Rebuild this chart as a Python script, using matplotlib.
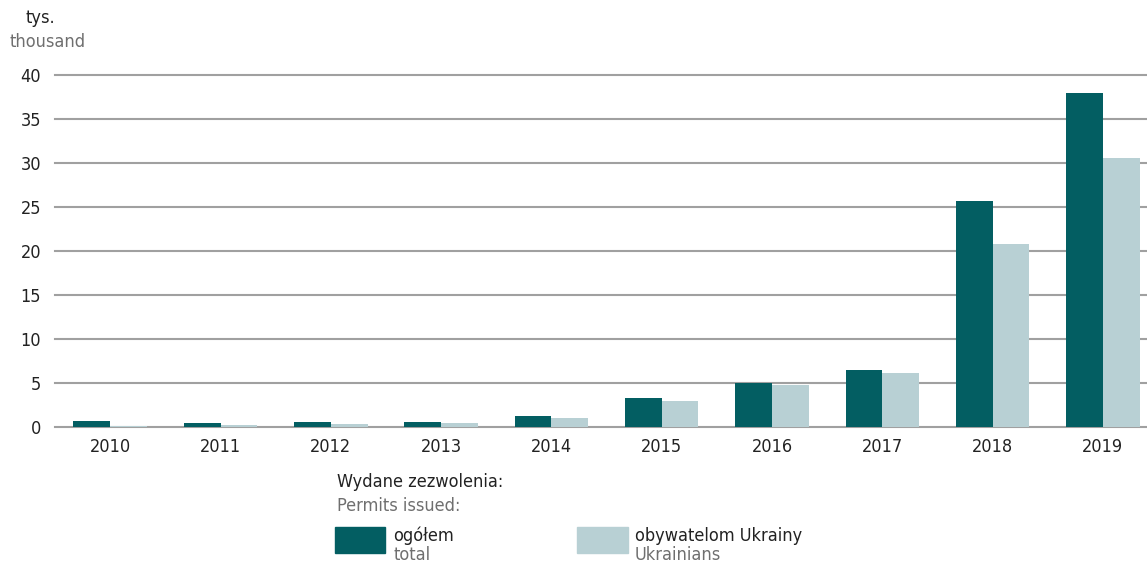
import matplotlib
matplotlib.use("Agg")
import matplotlib.pyplot as plt
import numpy as np
from matplotlib.patches import Rectangle

# dane (tys.)
years = ["2010", "2011", "2012", "2013", "2014", "2015", "2016", "2017", "2018", "2019"]
ogolem = [0.65, 0.45, 0.6, 0.6, 1.3, 3.3, 5.0, 6.5, 25.7, 38.0]
ukraina = [0.15, 0.2, 0.3, 0.4, 1.0, 2.96, 4.8, 6.1, 20.8, 30.6]
yticks = [0, 5, 10, 15, 20, 25, 30, 35, 40]

dark = "#035e62"
light = "#b8d0d4"
grey = "#6f6f6f"
plt.rcParams["font.family"] = ["DejaVu Sans"]
plt.rcParams["font.stretch"] = "condensed"
fs = 13

fig = plt.figure(figsize=(11.47, 5.64), dpi=100)
ax = fig.add_axes([0.048, 0.243, 0.952, 0.624])

x = np.arange(len(years))
w = 0.333
ax.bar(x - w / 2, ogolem, w, color=dark, zorder=3)
ax.bar(x + w / 2, ukraina, w, color=light, zorder=3)

ax.set_xlim(-0.5, 9.4)
ax.set_ylim(0, 40)
ax.set_yticks(yticks)
ax.set_xticks(x)
ax.set_xticklabels(years)
ax.tick_params(length=0, labelsize=fs, colors="#222222")
ax.tick_params(axis="y", pad=10)
ax.tick_params(axis="x", pad=8)
for t in yticks:
    ax.axhline(t, color="#a0a0a0", lw=1.5, zorder=1, clip_on=False)
for s in ax.spines.values():
    s.set_visible(False)

fig.text(40 / 1147, 1 - 18 / 564, "tys.", ha="center", va="center", fontsize=fs, color="#222222")
fig.text(10 / 1147, 1 - 42 / 564, "thousand", ha="left", va="center", fontsize=fs, color=grey)

# legenda
fig.text(337 / 1147, 1 - 482 / 564, "Wydane zezwolenia:", ha="left", va="center", fontsize=fs, color="#222222")
fig.text(337 / 1147, 1 - 506 / 564, "Permits issued:", ha="left", va="center", fontsize=fs, color=grey)
fig.patches.append(Rectangle((335 / 1147, 1 - 553 / 564), 50 / 1147, 26 / 564,
                             transform=fig.transFigure, color=dark, figure=fig))
fig.patches.append(Rectangle((577 / 1147, 1 - 553 / 564), 51 / 1147, 26 / 564,
                             transform=fig.transFigure, color=light, figure=fig))
fig.text(393 / 1147, 1 - 536 / 564, "ogółem", ha="left", va="center", fontsize=fs, color="#222222")
fig.text(393 / 1147, 1 - 555 / 564, "total", ha="left", va="center", fontsize=fs, color=grey)
fig.text(635 / 1147, 1 - 536 / 564, "obywatelom Ukrainy", ha="left", va="center", fontsize=fs, color="#222222")
fig.text(635 / 1147, 1 - 555 / 564, "Ukrainians", ha="left", va="center", fontsize=fs, color=grey)

fig.savefig("out.png", dpi=100)
